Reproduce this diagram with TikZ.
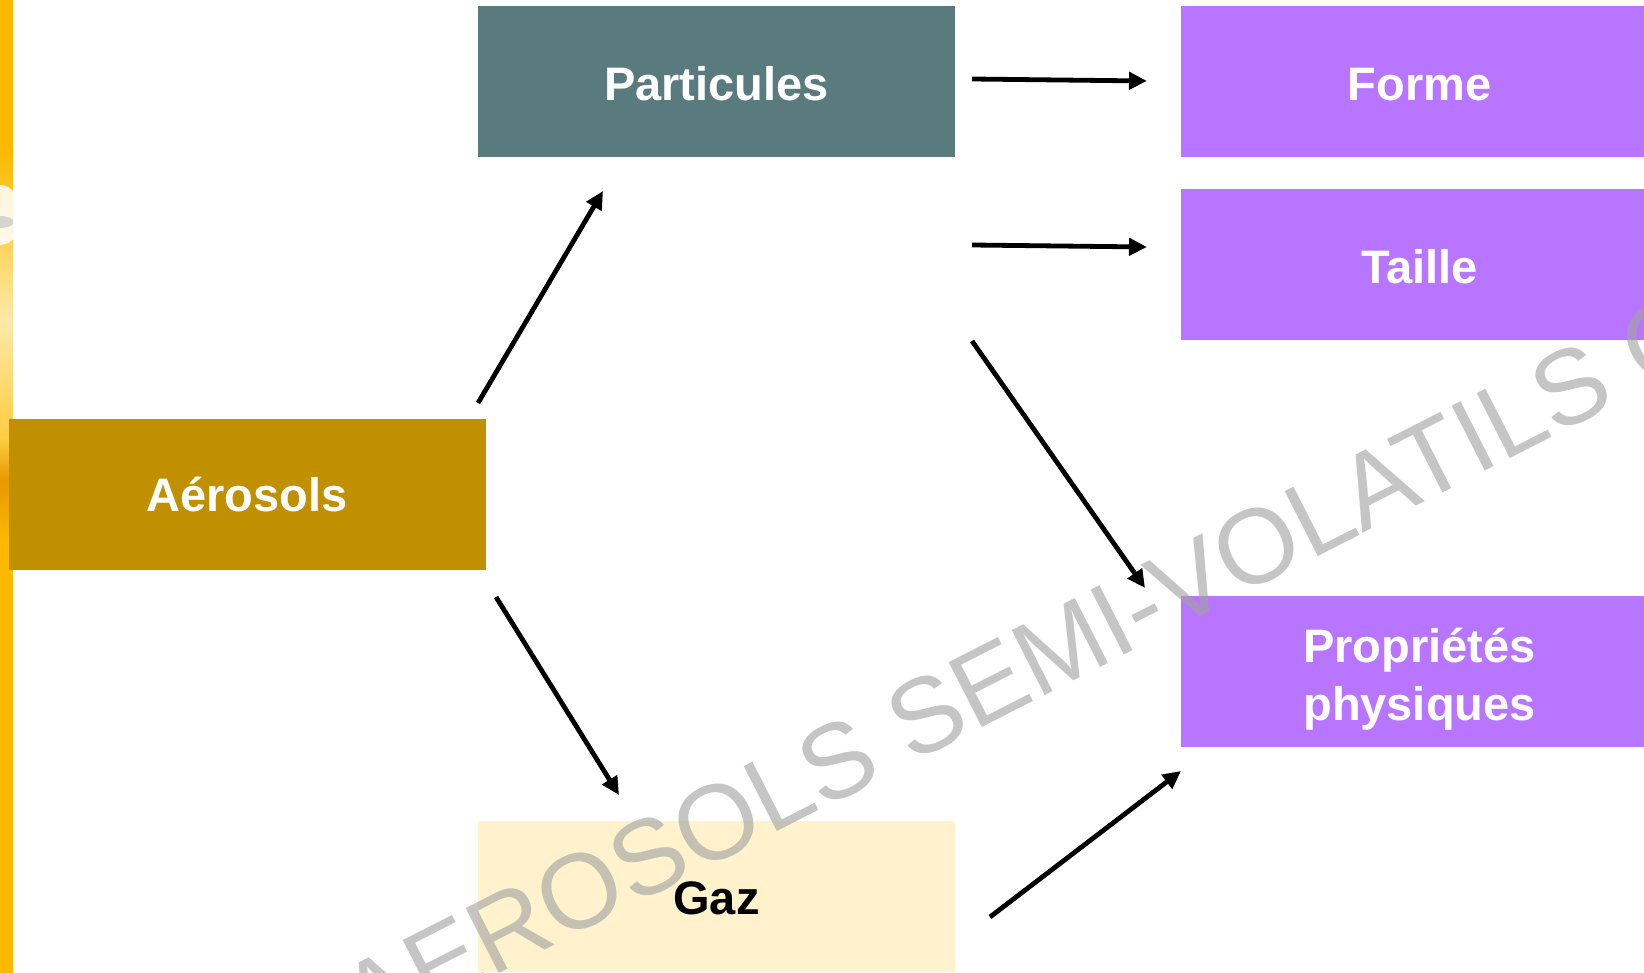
\documentclass[tikz,border=0pt]{standalone}
\usepackage{fontspec}
\setmainfont{Liberation Sans}
\usetikzlibrary{arrows.meta}
\definecolor{barY}{HTML}{FCB900}
\definecolor{barL}{HTML}{FFE9A8}
\definecolor{barM}{HTML}{FFCC40}
\definecolor{barO}{HTML}{E89800}
\definecolor{partC}{HTML}{5A7B7D}
\definecolor{purp}{HTML}{B875FF}
\definecolor{aerC}{HTML}{C09000}
\definecolor{gazC}{HTML}{FFF2CC}
\definecolor{wmC}{HTML}{A3A3A3}
\begin{document}
\begin{tikzpicture}[x=0.5pt,y=-0.5pt,
  box/.style={rectangle, inner sep=0pt, minimum width=238.5pt, minimum height=75.5pt},
  lbl/.style={inner sep=0pt, font=\bfseries\fontsize{23.5}{29}\selectfont, align=center, text=white},
  conn/.style={line width=2.4pt, -{Triangle[length=9pt,width=8.5pt]}}]
\useasboundingbox (0,0) rectangle (1644,973);
\clip (0,0) rectangle (1644,973);
% left decorative bar
\fill[barY] (0,0) rectangle (13,973);
\begin{scope}
\clip (0,0) rectangle (13,973);
\shade[top color=barY, bottom color=barL] (0,150) rectangle (13,320);
\shade[top color=barL, bottom color=barM] (0,320) rectangle (13,440);
\shade[top color=barM, bottom color=barO] (0,440) rectangle (13,480);
\shade[top color=barO, bottom color=barY] (0,480) rectangle (13,540);
\fill[white, opacity=0.85] (0,215) ellipse [x radius=22, y radius=30];
\fill[gray!40, opacity=0.8] (0,222) ellipse [x radius=14, y radius=6];
\end{scope}
% boxes
\node[box, fill=aerC] (aer) at (247,494.5) {};
\node[box, fill=partC] (part) at (716.5,81.5) {};
\node[box, fill=gazC] (gaz) at (716.5,896.5) {};
\node[box, fill=purp] (forme) at (1419.5,81.5) {};
\node[box, fill=purp] (taille) at (1419.5,264.5) {};
\node[box, fill=purp] (prop) at (1419.5,671.5) {};
% labels
\node[lbl] (aerT) at (aer.center) {Aérosols};
\node[lbl] (partT) at ([yshift=-1pt]part.center) {Particules};
\node[lbl, text=black] (gazT) at ([yshift=-1pt]gaz.center) {Gaz};
\node[lbl] (formeT) at ([yshift=-1.5pt]forme.center) {Forme};
\node[lbl] (tailleT) at ([yshift=-1pt]taille.center) {Taille};
\node[lbl] (propT) at ([yshift=-3.6pt]prop.center) {Propriétés\\physiques};
% connectors
\coordinate (a1s) at (478,403);  \coordinate (a1e) at (603,191);
\coordinate (a2s) at (496,597);  \coordinate (a2e) at (619,795);
\coordinate (a3s) at (972,79);   \coordinate (a3e) at (1147,81);
\coordinate (a4s) at (972,245);  \coordinate (a4e) at (1147,247);
\coordinate (a5s) at (972,341);  \coordinate (a5e) at (1145,588);
\coordinate (a6s) at (990,917);  \coordinate (a6e) at (1181,771);
\draw[conn] (a1s) -- (a1e);
\draw[conn] (a2s) -- (a2e);
\draw[conn] (a3s) -- (a3e);
\draw[conn] (a4s) -- (a4e);
\draw[conn] (a5s) -- (a5e);
\draw[conn] (a6s) -- (a6e);
% watermark
\node[anchor=base west, inner sep=0pt, rotate=27, text=wmC, opacity=0.63,
  font=\fontsize{53}{60}\selectfont] (wm) at (365,1042) {AEROSOLS SEMI-VOLATILS C};
\end{tikzpicture}
\end{document}
